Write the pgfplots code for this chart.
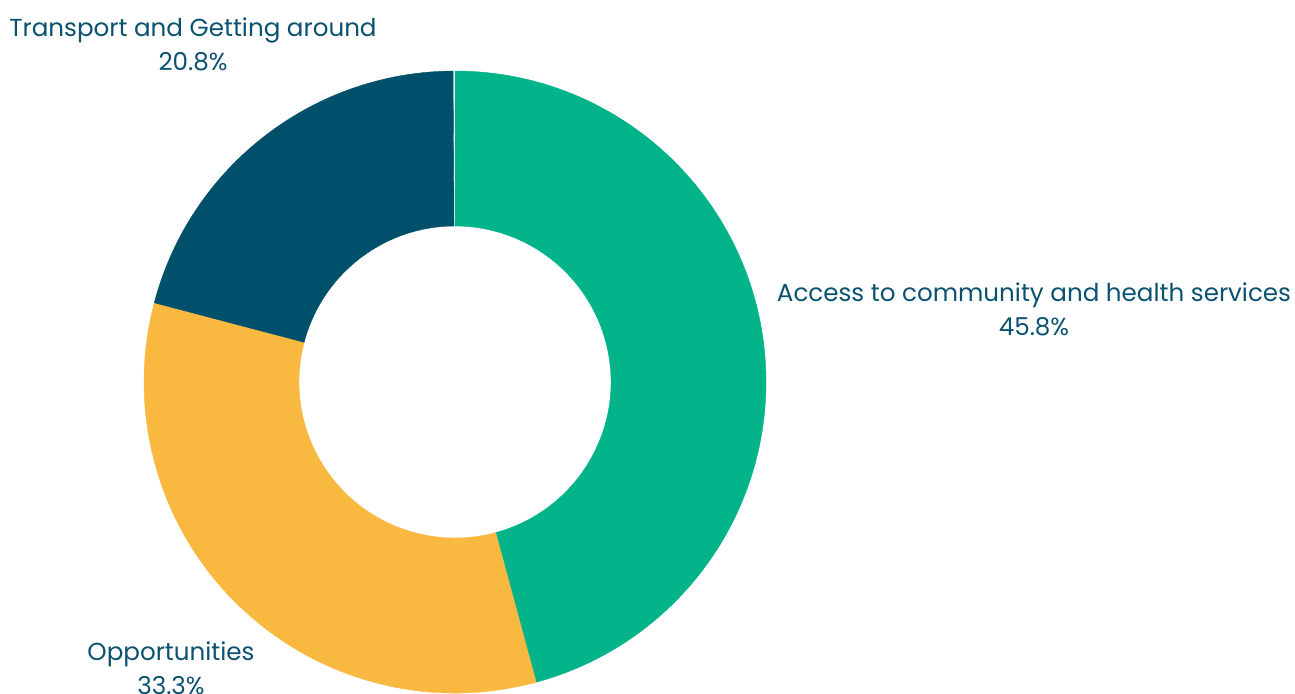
\documentclass[border=0pt]{standalone}
\usepackage{pgfplots}
\pgfplotsset{compat=1.18}
\usepackage{fontspec}
\setmainfont{Poppins}
\definecolor{cgreen}{HTML}{03B48B}
\definecolor{cyellow}{HTML}{F9B83F}
\definecolor{cblue}{HTML}{004F6B}
\definecolor{ctext}{HTML}{0B5270}
\tikzset{lbl/.style={text=ctext, font=\fontsize{12.3}{17}\selectfont, align=center}}

\begin{document}
\begin{tikzpicture}
\path[use as bounding box] (0,0) rectangle (647.5pt,346.5pt);
\begin{axis}[
    at={(0,0)}, anchor=origin,
    x=0.5pt, y=0.5pt,
    xmin=0, xmax=1295, ymin=0, ymax=693,
    hide axis, clip=false,
]
% centre (455,311) in px, outer 311, inner 156
\def\cx{455}\def\cy{311}\def\ro{311}\def\ri{156}
\xdef\angA{90}
\foreach \v/\c in {45.8/cgreen, 33.3/cyellow, 20.8/cblue} {
    \pgfmathsetmacro\angB{\angA-\v*3.6}
    \pgfmathsetmacro\xs{\cx+\ro*cos(\angA)}
    \pgfmathsetmacro\ys{\cy+\ro*sin(\angA)}
    \edef\temp{\noexpand\filldraw[\c, line width=0.2pt] (axis cs:\xs,\ys)
        arc[start angle=\angA, end angle=\angB, radius=\ro]
        -- (axis cs:{\cx+\ri*cos(\angB)},{\cy+\ri*sin(\angB)})
        arc[start angle=\angB, end angle=\angA, radius=\ri] -- cycle;}
    \temp
    \xdef\angA{\angB}
}
\node[lbl] at (axis cs:193,649) {Transport and Getting around\\20.8\%};
\node[lbl] at (axis cs:1034,384) {Access to community and health services\\45.8\%};
\node[lbl] at (axis cs:171,25) {Opportunities\\33.3\%};
\end{axis}
\end{tikzpicture}
\end{document}
